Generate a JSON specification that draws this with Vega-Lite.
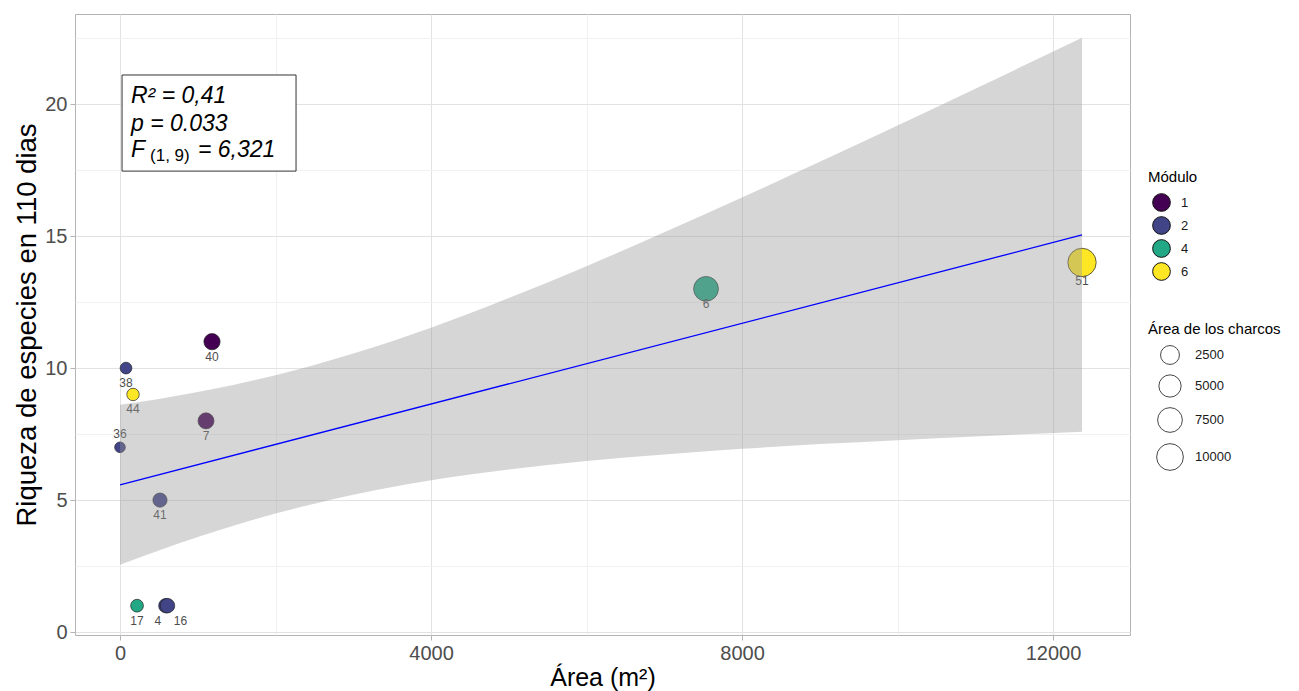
{
  "$schema": "https://vega.github.io/schema/vega-lite/v6.json",
  "width": 1055,
  "height": 621,
  "autosize": {"type": "none"},
  "padding": {"left": 75, "top": 14, "right": 169, "bottom": 56},
  "background": "white",
  "config": {
    "font": "Liberation Sans",
    "view": {"stroke": "#B3B3B3", "strokeWidth": 1},
    "axis": {
      "domain": false,
      "labelFont": "Liberation Sans",
      "titleFont": "Liberation Sans",
      "labelColor": "#4D4D4D",
      "titleColor": "#000000",
      "titleFontWeight": "normal",
      "tickSize": 5,
      "tickWidth": 1
    },
    "legend": {
      "titleFont": "Liberation Sans",
      "labelFont": "Liberation Sans",
      "titleFontWeight": "normal",
      "titleColor": "#000000",
      "labelColor": "#1A1A1A"
    }
  },
  "datasets": {
    "pts": [
      {"id": "40", "area": 1183, "riqueza": 11, "modulo": "1"},
      {"id": "38", "area": 77, "riqueza": 10, "modulo": "2"},
      {"id": "44", "area": 167, "riqueza": 9, "modulo": "6"},
      {"id": "36", "area": 0, "riqueza": 7, "modulo": "2"},
      {"id": "7", "area": 1106, "riqueza": 8, "modulo": "1"},
      {"id": "41", "area": 514, "riqueza": 5, "modulo": "2"},
      {"id": "17", "area": 219, "riqueza": 1, "modulo": "4"},
      {"id": "4", "area": 590, "riqueza": 1, "modulo": "2"},
      {"id": "16", "area": 610, "riqueza": 1, "modulo": "2"},
      {"id": "6", "area": 7537, "riqueza": 13, "modulo": "4"},
      {"id": "51", "area": 12373, "riqueza": 14, "modulo": "6"}
    ],
    "band": [
      {"area": 0, "lo": 2.55, "hi": 8.61},
      {"area": 500, "lo": 3.09, "hi": 8.83},
      {"area": 1000, "lo": 3.60, "hi": 9.09},
      {"area": 1500, "lo": 4.07, "hi": 9.39},
      {"area": 2000, "lo": 4.49, "hi": 9.73},
      {"area": 2500, "lo": 4.86, "hi": 10.12},
      {"area": 3000, "lo": 5.20, "hi": 10.55},
      {"area": 3500, "lo": 5.50, "hi": 11.02},
      {"area": 4000, "lo": 5.75, "hi": 11.53},
      {"area": 5000, "lo": 6.16, "hi": 12.65},
      {"area": 6000, "lo": 6.48, "hi": 13.86},
      {"area": 7000, "lo": 6.73, "hi": 15.14},
      {"area": 8000, "lo": 6.94, "hi": 16.46},
      {"area": 9000, "lo": 7.12, "hi": 17.81},
      {"area": 10000, "lo": 7.27, "hi": 19.19},
      {"area": 11000, "lo": 7.41, "hi": 20.58},
      {"area": 12373, "lo": 7.59, "hi": 22.51}
    ],
    "stats": [
      {"x": 26, "x2": 2264, "y": 21.1, "y2": 17.46}
    ]
  },
  "encoding": {
    "x": {
      "field": "area",
      "type": "quantitative",
      "scale": {"domain": [-579, 12990], "nice": false, "zero": false},
      "axis": {
        "title": "Área (m²)",
        "titleFontSize": 25,
        "titlePadding": 2,
        "labelFontSize": 20,
        "labelPadding": 3,
        "format": "d",
        "values": [0, 2000, 4000, 6000, 8000, 10000, 12000],
        "labelExpr": "datum.value % 4000 === 0 ? datum.label : ''",
        "gridColor": {"condition": {"test": "datum.value % 4000 === 0", "value": "#E2E2E2"}, "value": "#F1F1F1"},
        "tickColor": {"condition": {"test": "datum.value % 4000 === 0", "value": "#B3B3B3"}, "value": "transparent"}
      }
    },
    "y": {
      "field": "riqueza",
      "type": "quantitative",
      "scale": {"domain": [-0.11, 23.41], "nice": false, "zero": false},
      "axis": {
        "title": "Riqueza de especies en 110 dias",
        "titleFontSize": 27.5,
        "titlePadding": 3,
        "labelFontSize": 20,
        "labelPadding": 3,
        "values": [0, 2.5, 5, 7.5, 10, 12.5, 15, 17.5, 20, 22.5],
        "labelExpr": "datum.value % 5 === 0 ? datum.label : ''",
        "gridColor": {"condition": {"test": "datum.value % 5 === 0", "value": "#E2E2E2"}, "value": "#F1F1F1"},
        "tickColor": {"condition": {"test": "datum.value % 5 === 0", "value": "#B3B3B3"}, "value": "transparent"}
      }
    }
  },
  "layer": [
    {
      "data": {"name": "pts"},
      "mark": {"type": "point", "shape": "circle", "filled": true, "opacity": 1, "stroke": "#222222", "strokeWidth": 0.7},
      "encoding": {
        "fill": {
          "field": "modulo",
          "type": "nominal",
          "scale": {"domain": ["1", "2", "4", "6"], "range": ["#440154", "#414487", "#22A884", "#FDE725"]},
          "legend": {
            "title": "Módulo",
            "orient": "none",
            "legendX": 1073,
            "legendY": 156,
            "titleFontSize": 15,
            "labelFontSize": 13,
            "symbolType": "circle",
            "symbolSize": 314,
            "symbolStrokeColor": "#111111",
            "symbolStrokeWidth": 1,
            "symbolOffset": 4,
            "labelOffset": 10,
            "rowPadding": 0,
            "titlePadding": 8
          }
        },
        "size": {
          "field": "area",
          "type": "quantitative",
          "scale": {"type": "pow", "exponent": 0.65, "domain": [0, 12373], "range": [113, 804], "zero": false},
          "legend": {
            "title": "Área de los charcos",
            "orient": "none",
            "legendX": 1073,
            "legendY": 308,
            "titleFontSize": 15,
            "labelFontSize": 13,
            "values": [2500, 5000, 7500, 10000],
            "symbolType": "circle",
            "symbolFillColor": "white",
            "symbolStrokeColor": "#333333",
            "symbolStrokeWidth": 0.9,
            "symbolOffset": 8,
            "labelOffset": 11,
            "rowPadding": 6,
            "titlePadding": 8,
            "format": "d",
            "encode": {"symbols": {"update": {"fill": {"value": "white"}, "stroke": {"value": "#333333"}}}}
          }
        }
      }
    },
    {
      "data": {"name": "pts"},
      "transform": [{"filter": "datum.id !== '36' && datum.id !== '4' && datum.id !== '16' && datum.id !== '51'"}],
      "mark": {"type": "text", "fontSize": 12, "color": "#4D4D4D", "baseline": "middle", "dy": 15},
      "encoding": {"text": {"field": "id"}}
    },
    {
      "data": {"name": "pts"},
      "transform": [{"filter": "datum.id === '51'"}],
      "mark": {"type": "text", "fontSize": 12, "color": "#4D4D4D", "baseline": "middle", "dy": 19},
      "encoding": {"text": {"field": "id"}}
    },
    {
      "data": {"name": "pts"},
      "transform": [{"filter": "datum.id === '36'"}],
      "mark": {"type": "text", "fontSize": 12, "color": "#4D4D4D", "baseline": "middle", "dy": -13},
      "encoding": {"text": {"field": "id"}}
    },
    {
      "data": {"name": "pts"},
      "transform": [{"filter": "datum.id === '4'"}],
      "mark": {"type": "text", "fontSize": 12, "color": "#4D4D4D", "baseline": "middle", "dy": 15, "dx": -8},
      "encoding": {"text": {"field": "id"}}
    },
    {
      "data": {"name": "pts"},
      "transform": [{"filter": "datum.id === '16'"}],
      "mark": {"type": "text", "fontSize": 12, "color": "#4D4D4D", "baseline": "middle", "dy": 15, "dx": 13},
      "encoding": {"text": {"field": "id"}}
    },
    {
      "data": {"name": "band"},
      "mark": {"type": "area", "fill": "#999999", "opacity": 0.4, "interpolate": "monotone"},
      "encoding": {
        "y": {"field": "lo", "type": "quantitative"},
        "y2": {"field": "hi"}
      }
    },
    {
      "data": {"name": "pts"},
      "transform": [{"regression": "riqueza", "on": "area", "extent": [0, 12373]}],
      "mark": {"type": "line", "color": "#0000FF", "strokeWidth": 1.3},
      "encoding": {}
    },
    {
      "data": {"name": "stats"},
      "mark": {"type": "rect", "fill": "white", "stroke": "#333333", "strokeWidth": 1},
      "encoding": {
        "x": {"field": "x", "type": "quantitative"},
        "x2": {"field": "x2"},
        "y": {"field": "y", "type": "quantitative"},
        "y2": {"field": "y2"}
      }
    },
    {
      "data": {"values": [
        {"t": "R² = 0,41", "tx": 141, "ty": 20.03},
        {"t": "p = 0.033", "tx": 141, "ty": 18.98},
        {"t": "F", "tx": 141, "ty": 17.98},
        {"t": "= 6,321", "tx": 1003, "ty": 17.98}
      ]},
      "mark": {"type": "text", "align": "left", "baseline": "alphabetic", "fontSize": 23, "fontStyle": "italic", "color": "#000000"},
      "encoding": {
        "x": {"field": "tx", "type": "quantitative"},
        "y": {"field": "ty", "type": "quantitative"},
        "text": {"field": "t"}
      }
    },
    {
      "data": {"values": [{"t": "(1, 9)", "tx": 386, "ty": 17.85}]},
      "mark": {"type": "text", "align": "left", "baseline": "alphabetic", "fontSize": 17, "color": "#000000"},
      "encoding": {
        "x": {"field": "tx", "type": "quantitative"},
        "y": {"field": "ty", "type": "quantitative"},
        "text": {"field": "t"}
      }
    }
  ]
}
